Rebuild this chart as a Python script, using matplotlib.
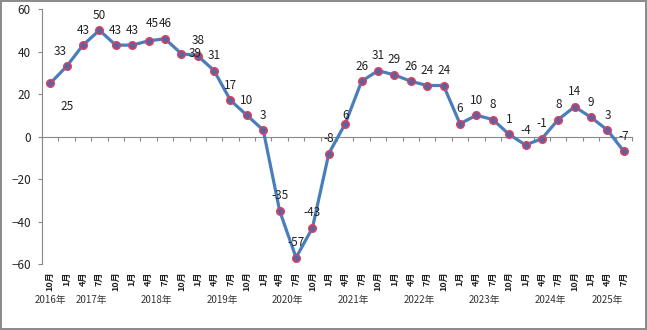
import matplotlib.pyplot as plt

plt.rcParams['font.family'] = ['Noto Sans CJK SC', 'DejaVu Sans']

months = ["10月"] + ["1月", "4月", "7月", "10月"] * 8 + ["1月", "4月", "7月"]
years = ["2016年", "2017年", "2018年", "2019年", "2020年",
         "2021年", "2022年", "2023年", "2024年", "2025年"]
values = [25, 33, 43, 50, 43, 43, 45, 46, 39, 38, 31, 17, 10, 3, -35, -57,
          -43, -8, 6, 26, 31, 29, 26, 24, 24, 6, 10, 8, 1, -4, -1, 8, 14,
          9, 3, -7]

# label offsets in pixels; everything else sits just above its point
label_off = {0: (17, -23), 1: (-6, 15), 6: (4, 17), 8: (14, 0), 18: (0, 8)}

fig = plt.figure(figsize=(6.47, 3.30), dpi=100, edgecolor='#8c8c8c', linewidth=1.5)
ax = fig.add_axes([0.0649, 0.2, 0.912, 0.7727])

x = list(range(len(values)))
ax.plot(x, values, color='#4a7ebb', lw=2.3, marker='o', ms=5.5,
        mfc='#62609f', mec='#e0405a', mew=1.0, zorder=3)

for i, v in enumerate(values):
    dx, dy = label_off.get(i, (0, 15))
    ax.annotate(str(v), (i, v), xytext=(dx, dy), textcoords='offset pixels',
                ha='center', va='center', fontsize=8.5, color='#222222')

ax.set_xlim(-0.5, len(values) - 0.5)
ax.set_ylim(-60, 60)
ax.set_yticks(range(-60, 61, 20))
ax.tick_params(axis='y', length=3, width=0.8, color='#888888', labelsize=8.5,
               pad=5, labelcolor='#222222')

# x axis sits on zero with ticks between categories
ax.spines['bottom'].set_position(('data', 0))
ax.set_xticks([i - 0.5 for i in range(len(values) + 1)])
ax.set_xticklabels([])
ax.tick_params(axis='x', length=3, width=0.8, color='#888888')
for s in ['top', 'right']:
    ax.spines[s].set_visible(False)
for s in ['left', 'bottom']:
    ax.spines[s].set_color('#888888')
    ax.spines[s].set_linewidth(0.8)

tr = ax.get_xaxis_transform()
for i, m in enumerate(months):
    ax.text(i, -0.03, m, transform=tr, rotation=90, ha='center', va='top',
            fontsize=6.5, fontweight='bold', color='#222222')

# year labels centred under each year's quarters
starts = [0, 1, 5, 9, 13, 17, 21, 25, 29, 33]
ends = starts[1:] + [len(values)]
for y, a, b in zip(years, starts, ends):
    ax.text((a + b - 1) / 2, -0.14, y, transform=tr, ha='center', va='center',
            fontsize=7, color='#333333')

fig.savefig("out.png", dpi=100)
